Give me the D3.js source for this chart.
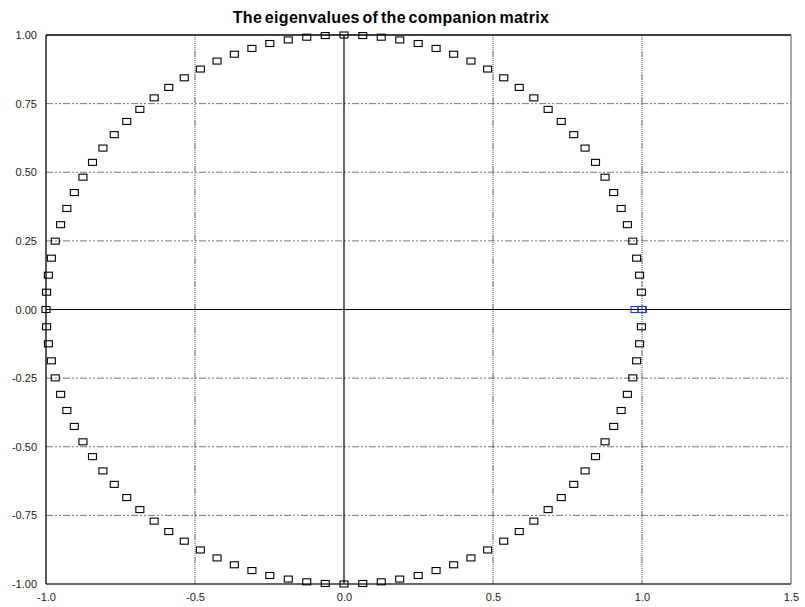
<!DOCTYPE html>
<html>
<head>
<meta charset="utf-8">
<script src="https://cdn.jsdelivr.net/npm/d3@7/dist/d3.min.js"></script>
<style>
  body { margin: 0; background: #fff; }
  svg text { font-family: "Liberation Sans", Arial, sans-serif; }
</style>
</head>
<body>
<svg id="chart"></svg>
<script>
var re = [1.000,0.998,0.992,0.982,0.969,0.951,0.930,0.905,0.876,0.844,0.809,0.771,0.729,0.685,0.637,0.588,0.536,0.482,0.426,0.368,0.309,0.249,0.187,0.125,0.063,0.000,
  -0.063,-0.125,-0.187,-0.249,-0.309,-0.368,-0.426,-0.482,-0.536,-0.588,-0.637,-0.685,-0.729,-0.771,-0.809,-0.844,-0.876,-0.905,-0.930,-0.951,-0.969,-0.982,-0.992,-0.998,-1.000,
  -0.998,-0.992,-0.982,-0.969,-0.951,-0.930,-0.905,-0.876,-0.844,-0.809,-0.771,-0.729,-0.685,-0.637,-0.588,-0.536,-0.482,-0.426,-0.368,-0.309,-0.249,-0.187,-0.125,-0.063,0.000,
  0.063,0.125,0.187,0.249,0.309,0.368,0.426,0.482,0.536,0.588,0.637,0.685,0.729,0.771,0.809,0.844,0.876,0.905,0.930,0.951,0.969,0.982,0.992,0.998];
var im = [0.000,0.063,0.125,0.187,0.249,0.309,0.368,0.426,0.482,0.536,0.588,0.637,0.685,0.729,0.771,0.809,0.844,0.876,0.905,0.930,0.951,0.969,0.982,0.992,0.998,1.000,
  0.998,0.992,0.982,0.969,0.951,0.930,0.905,0.876,0.844,0.809,0.771,0.729,0.685,0.637,0.588,0.536,0.482,0.426,0.368,0.309,0.249,0.187,0.125,0.063,0.000,
  -0.063,-0.125,-0.187,-0.249,-0.309,-0.368,-0.426,-0.482,-0.536,-0.588,-0.637,-0.685,-0.729,-0.771,-0.809,-0.844,-0.876,-0.905,-0.930,-0.951,-0.969,-0.982,-0.992,-0.998,-1.000,
  -0.998,-0.992,-0.982,-0.969,-0.951,-0.930,-0.905,-0.876,-0.844,-0.809,-0.771,-0.729,-0.685,-0.637,-0.588,-0.536,-0.482,-0.426,-0.368,-0.309,-0.249,-0.187,-0.125,-0.063];
// highlighted root (blue)
var hiRe = [0.99];
var hiIm = [0.0];

var xTicks = [-1.0, -0.5, 0.0, 0.5, 1.0, 1.5];
var yTicks = [-1.0, -0.75, -0.5, -0.25, 0.0, 0.25, 0.5, 0.75, 1.0];
var title = 'The eigenvalues of the companion matrix';

var width = 805, height = 607;
var margin = {top: 35, right: 14, bottom: 23, left: 46};
var w = width - margin.left - margin.right;
var h = height - margin.top - margin.bottom;

var svg = d3.select('#chart').attr('width', width).attr('height', height);
var g = svg.append('g').attr('transform', 'translate(' + margin.left + ',' + margin.top + ')');

var x = d3.scaleLinear().domain([-1, 1.5]).range([0, w]);
var y = d3.scaleLinear().domain([-1, 1]).range([h, 0]);

// grid lines
g.selectAll('.hgrid').data(yTicks.filter(function(d) { return d !== 0 && Math.abs(d) !== 1; }))
  .enter().append('line').attr('class', 'hgrid')
  .attr('x1', 0).attr('x2', w)
  .attr('y1', function(d) { return y(d); }).attr('y2', function(d) { return y(d); })
  .attr('stroke', '#777').attr('stroke-width', 1).attr('stroke-dasharray', '7,2,2,2,2,2');
g.selectAll('.vgrid').data(xTicks.filter(function(d) { return d !== 0 && d !== -1 && d !== 1.5; }))
  .enter().append('line').attr('class', 'vgrid')
  .attr('y1', 0).attr('y2', h)
  .attr('x1', function(d) { return x(d); }).attr('x2', function(d) { return x(d); })
  .attr('stroke', '#555').attr('stroke-width', 1)
  .attr('stroke-dasharray', '1,1,1,1,1,1,1,1,1,1,1,1,1,1,1,1,6,1');

// zero lines
g.append('line').attr('x1', 0).attr('x2', w).attr('y1', y(0)).attr('y2', y(0))
  .attr('stroke', '#000').attr('stroke-width', 1.2);
g.append('line').attr('x1', x(0)).attr('x2', x(0)).attr('y1', 0).attr('y2', h)
  .attr('stroke', '#000').attr('stroke-width', 1.2);

// frame
g.append('line').attr('x1', 0).attr('x2', w).attr('y1', 0).attr('y2', 0).attr('stroke', '#000').attr('stroke-width', 1.3);
g.append('line').attr('x1', 0).attr('x2', 0).attr('y1', 0).attr('y2', h).attr('stroke', '#000').attr('stroke-width', 1.3);
g.append('line').attr('x1', 0).attr('x2', w).attr('y1', h).attr('y2', h).attr('stroke', '#333').attr('stroke-width', 1.3);
g.append('line').attr('x1', w).attr('x2', w).attr('y1', 0).attr('y2', h).attr('stroke', '#777').attr('stroke-width', 1.3);

// axes (labels only)
var fmtX = function(d) { return d.toFixed(1); };
var fmtY = function(d) { return d.toFixed(2); };
var xAxis = g.append('g').attr('transform', 'translate(0,' + h + ')')
  .call(d3.axisBottom(x).tickValues(xTicks).tickFormat(fmtX).tickSize(0).tickPadding(9));
var yAxis = g.append('g')
  .call(d3.axisLeft(y).tickValues(yTicks).tickFormat(fmtY).tickSize(0).tickPadding(9));
[xAxis, yAxis].forEach(function(a) {
  a.select('.domain').remove();
  a.selectAll('text').attr('font-size', 11).attr('fill', '#222')
    .attr('font-family', '"Liberation Sans", Arial, sans-serif');
});

// eigenvalue boxes
var pts = re.map(function(r, i) { return [r, im[i]]; });
var bw = 8, bh = 6;
g.selectAll('.root').data(pts).enter().append('rect').attr('class', 'root')
  .attr('x', function(d) { return x(d[0]) - bw / 2; })
  .attr('y', function(d) { return y(d[1]) - bh / 2; })
  .attr('width', bw).attr('height', bh)
  .attr('fill', 'none').attr('stroke', '#000').attr('stroke-width', 1.1);

var hi = hiRe.map(function(r, i) { return [r, hiIm[i]]; });
g.selectAll('.hi').data(hi).enter().append('rect').attr('class', 'hi')
  .attr('x', function(d) { return x(d[0]) - 8; })
  .attr('y', function(d) { return y(d[1]) - 3; })
  .attr('width', 15).attr('height', 6)
  .attr('fill', 'none').attr('stroke', '#2233ee').attr('stroke-width', 1.1);

// title
svg.append('text').attr('x', 391).attr('y', 23).attr('text-anchor', 'middle')
  .attr('font-size', 16).attr('font-weight', 'bold')
  .attr('letter-spacing', 0.3).attr('word-spacing', -2)
  .attr('fill', '#000').text(title);
</script>
</body>
</html>
